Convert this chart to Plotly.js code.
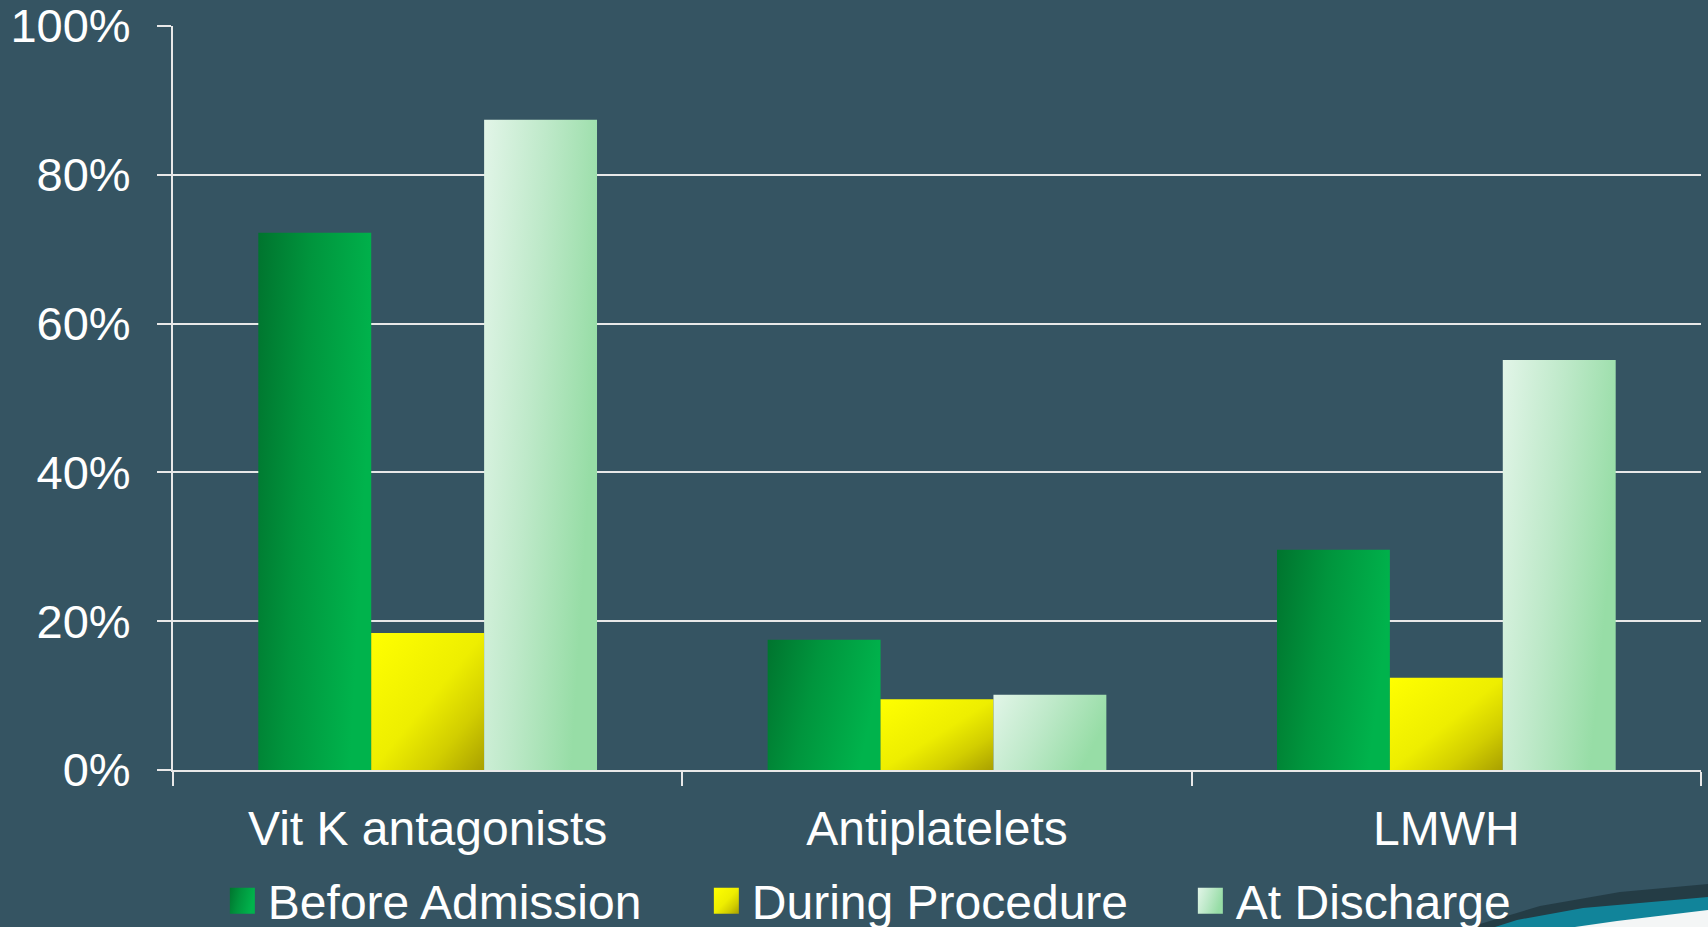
<!DOCTYPE html>
<html>
<head>
<meta charset="utf-8">
<script src="https://cdn.plot.ly/plotly-3.0.1.min.js"></script>
<style>
  html, body { margin: 0; padding: 0; background: #355462; }
  #chart { width: 1708px; height: 927px; }
</style>
</head>
<body>
<div id="chart"></div>
<script>
const categories = ["Vit K antagonists", "Antiplatelets", "LMWH"];
const seriesNames = ["Before Admission", "During Procedure", "At Discharge"];
const beforeAdmission = [72.2, 17.5, 29.6];
const duringProcedure = [18.4, 9.5, 12.4];
const atDischarge = [87.4, 10.1, 55.1];
const yTickValues = [0, 20, 40, 60, 80, 100];
const yTickLabels = ["0%", "20%", "40%", "60%", "80%", "100%"];

const baseColors = ["#00A040", "#EEEE00", "#B8E6C4"];
const FONT = "Liberation Sans, Arial, sans-serif";

const traces = [beforeAdmission, duringProcedure, atDischarge].map((vals, i) => ({
  type: "bar",
  name: seriesNames[i],
  x: categories,
  y: vals,
  marker: { color: baseColors[i], line: { width: 0 } },
  hoverinfo: "skip"
}));

// pixel -> paper helpers for the decorative swoosh
const L = 173, R = 7, T = 26, B = 157, W = 1708, H = 927;
const pw = W - L - R, ph = H - T - B;
const px = v => ((v - L) / pw).toFixed(4);
const py = v => ((H - B - v) / ph).toFixed(4);
function pth(pts) {
  return pts.map((p, i) => (i === 0 ? "M" : "L") + px(p[0]) + "," + py(p[1])).join(" ") + " Z";
}

const layout = {
  width: W, height: H,
  paper_bgcolor: "#355462",
  plot_bgcolor: "#355462",
  margin: { l: L, r: R, t: T, b: B, autoexpand: false },
  barmode: "group",
  bargap: 0.335,
  bargroupgap: 0,
  showlegend: true,
  legend: {
    orientation: "h",
    x: 0.0359, xanchor: "left",
    y: -0.176, yanchor: "middle",
    font: { family: FONT, size: 48, color: "#ffffff" },
    entrywidth: 439, entrywidthmode: "pixels",
    bgcolor: "rgba(0,0,0,0)",
    traceorder: "normal"
  },
  xaxis: {
    type: "category",
    tickson: "boundaries",
    ticks: "outside", ticklen: 14, tickwidth: 2, tickcolor: "#e8e8e8",
    showline: true, linecolor: "#e8e8e8", linewidth: 2,
    showgrid: false,
    tickfont: { family: FONT, size: 48, color: "#ffffff" },
    ticklabelstandoff: 15,
    ticklabeloverflow: "allow",
    fixedrange: true
  },
  yaxis: {
    range: [0, 100],
    tickmode: "array",
    tickvals: yTickValues,
    ticktext: yTickLabels,
    ticks: "outside", ticklen: 14, tickwidth: 2, tickcolor: "#e8e8e8",
    showline: true, linecolor: "#e8e8e8", linewidth: 2,
    showgrid: true, gridcolor: "#e8e8e8", gridwidth: 2,
    zeroline: false,
    tickfont: { family: FONT, size: 47, color: "#ffffff" },
    ticklabelstandoff: 17,
    ticklabeloverflow: "allow",
    fixedrange: true
  },
  shapes: [
    { type: "path", xref: "paper", yref: "paper", layer: "below", line: { width: 0 },
      fillcolor: "rgba(15,30,35,0.45)",
      path: pth([[1470, 927], [1540, 906], [1620, 892], [1708, 884], [1708, 927]]) },
    { type: "path", xref: "paper", yref: "paper", layer: "above", line: { width: 0 },
      fillcolor: "#11849a",
      path: pth([[1495, 927], [1517, 920], [1583, 908], [1708, 897], [1708, 927]]) },
    { type: "path", xref: "paper", yref: "paper", layer: "above", line: { width: 0 },
      fillcolor: "#f4f6f6",
      path: pth([[1575, 927], [1617, 921], [1708, 910], [1708, 927]]) }
  ]
};

const grads = [
  { id: "gBefore", x2: 1, y2: 0.25, stops: [[0, "#00742E"], [0.45, "#00953D"], [1, "#00B34C"]] },
  { id: "gDuring", x2: 1, y2: 1, stops: [[0, "#FFFF00"], [0.5, "#EEEE00"], [0.75, "#D2CE00"], [1, "#A9A000"]] },
  { id: "gDisch", x2: 1, y2: 0.35, stops: [[0, "#E2F5E8"], [0.5, "#BEE9C9"], [1, "#97DDA6"]] }
];

function decorate(gd) {
  const NS = "http://www.w3.org/2000/svg";
  const svg = gd.querySelector(".main-svg");
  if (!svg) return;
  let defs = svg.querySelector("defs");
  if (!defs) { defs = document.createElementNS(NS, "defs"); svg.insertBefore(defs, svg.firstChild); }
  grads.forEach(g => {
    if (defs.querySelector("#" + g.id)) return;
    const lg = document.createElementNS(NS, "linearGradient");
    lg.setAttribute("id", g.id);
    lg.setAttribute("x1", "0"); lg.setAttribute("y1", "0");
    lg.setAttribute("x2", String(g.x2)); lg.setAttribute("y2", String(g.y2));
    g.stops.forEach(s => {
      const st = document.createElementNS(NS, "stop");
      st.setAttribute("offset", String(s[0]));
      st.setAttribute("stop-color", s[1]);
      lg.appendChild(st);
    });
    defs.appendChild(lg);
  });
  gd.querySelectorAll(".barlayer .trace.bars").forEach((t, i) => {
    t.querySelectorAll("path").forEach(p => { p.style.fill = "url(#" + grads[i % 3].id + ")"; });
  });
  gd.querySelectorAll(".legend .traces").forEach((t, i) => {
    t.querySelectorAll(".legendpoints path").forEach(p => {
      p.setAttribute("d", "M7,13H-18V-13H7Z");
      p.style.fill = "url(#" + grads[i % 3].id + ")";
    });
  });
}

Plotly.newPlot("chart", traces, layout, { displayModeBar: false, staticPlot: true }).then(gd => {
  decorate(gd);
  gd.on && gd.on("plotly_afterplot", () => decorate(gd));
  setTimeout(() => decorate(gd), 50);
  setTimeout(() => decorate(gd), 300);
});
</script>
</body>
</html>
